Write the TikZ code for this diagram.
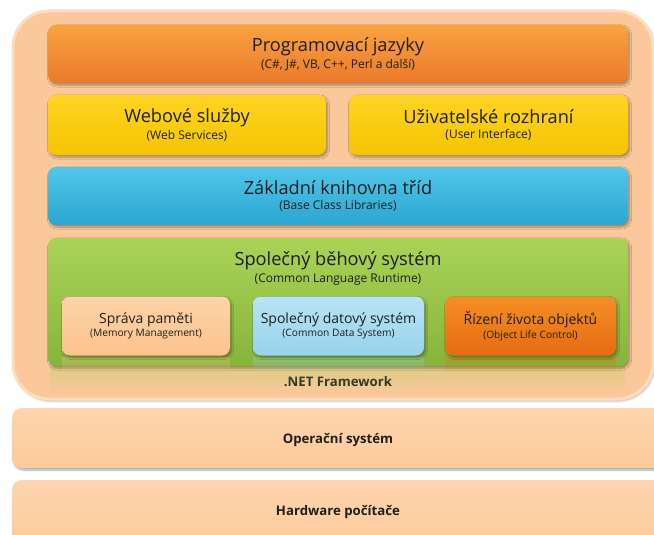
\documentclass[tikz,border=0pt]{standalone}
\usepackage{fontspec}
\setmainfont{Open Sans}
\usetikzlibrary{shadows.blur,fadings}

\definecolor{framefill}{HTML}{FBC89B}
\definecolor{framerim}{HTML}{FDDDBB}
\definecolor{peach}{HTML}{FDCA9A}
\definecolor{peachtop}{HTML}{FDD5AE}
\definecolor{orgtop}{HTML}{F9A240}
\definecolor{orgbot}{HTML}{EA7A2C}
\definecolor{yeltop}{HTML}{FFD424}
\definecolor{yelbot}{HTML}{F5C500}
\definecolor{blutop}{HTML}{52C6EA}
\definecolor{blubot}{HTML}{2BA6D0}
\definecolor{grntop}{HTML}{A9D458}
\definecolor{grnbot}{HTML}{86B43A}
\definecolor{memtop}{HTML}{FED3A8}
\definecolor{membot}{HTML}{FBC38E}
\definecolor{dattop}{HTML}{B8E4F5}
\definecolor{datbot}{HTML}{98D2EA}
\definecolor{objtop}{HTML}{F58E26}
\definecolor{objbot}{HTML}{E66C10}
\definecolor{ink}{HTML}{1E1E1E}

\tikzset{
  layer/.style={rectangle, rounded corners=8pt, inner sep=0pt, text=ink,
    align=center, blur shadow={shadow xshift=1.5pt, shadow yshift=-2pt,
    shadow blur steps=6, shadow opacity=35}},
  orangelayer/.style={layer, top color=orgtop, bottom color=orgbot},
  yellowlayer/.style={layer, top color=yeltop, bottom color=yelbot},
  bluelayer/.style={layer, top color=blutop, bottom color=blubot},
  greenlayer/.style={layer, top color=grntop, bottom color=grnbot},
  memlayer/.style={layer, top color=memtop, bottom color=membot},
  datlayer/.style={layer, top color=dattop, bottom color=datbot},
  objlayer/.style={layer, top color=objtop, bottom color=objbot},
  oslayer/.style={layer, rounded corners=10pt, top color=peachtop, bottom color=peach},
  mirror/.style={path fading=south, fill opacity=0.35},
  boldlabel/.style={font=\fontsize{13.2}{16}\selectfont\bfseries, text=ink},
}
\newcommand{\bigline}[1]{{\fontsize{18.2}{21}\selectfont #1}}
\newcommand{\sub}[1]{\\[3pt]{\fontsize{12}{13}\selectfont #1}}
\newcommand{\midline}[1]{{\fontsize{14}{17}\selectfont #1}}
\newcommand{\subsmall}[1]{\\[1.5pt]{\fontsize{10.2}{12}\selectfont #1}}

\begin{document}
\begin{tikzpicture}[x=1pt,y=-1pt]
\useasboundingbox (0,0) rectangle (654,535);
\begin{scope}
\clip (0,0) rectangle (654,535);

% .NET Framework frame
\node[rectangle, rounded corners=36pt, minimum width=640pt, minimum height=388pt,
  fill=framefill, draw=framerim, line width=3pt,
  blur shadow={shadow xshift=1.5pt, shadow yshift=-2pt, shadow opacity=30}]
  (net) at (333,205) {};
\node[boldlabel] (netlabel) at (338,382) {.NET Framework};

% languages
\node[orangelayer, minimum width=580pt, minimum height=58pt] (lang) at (338,54)
  {\bigline{Programovací jazyky}\sub{(C\#, J\#, VB, C++, Perl a další)}};

% web services / user interface
\node[yellowlayer, minimum width=278pt, minimum height=60pt] (web) at (187,125)
  {\bigline{Webové služby}\sub{(Web Services)}};
\node[yellowlayer, minimum width=279pt, minimum height=60pt] (ui) at (488.5,125)
  {\bigline{Uživatelské rozhraní}\sub{(User Interface)}};

% base class libraries
\node[bluelayer, minimum width=580pt, minimum height=58pt] (bcl) at (338,196)
  {\bigline{Základní knihovna tříd}\sub{(Base Class Libraries)}};

% common language runtime
\fill[grntop, mirror] (50,366) rectangle (626,394);
\node[greenlayer, minimum width=580pt, minimum height=128pt] (clr) at (338,302) {};
\node[align=center, text=ink, anchor=north] (clrlabel) at (338,248)
  {\bigline{Společný běhový systém}\sub{(Common Language Runtime)}};

% runtime services with their reflections
\fill[membot, mirror] (62,357) rectangle (230,374);
\fill[datbot, mirror] (253,357) rectangle (424,374);
\fill[objbot, mirror] (445,357) rectangle (616,374);
\node[memlayer, minimum width=168pt, minimum height=59pt] (mem) at (146,326)
  {\midline{Správa paměti}\subsmall{(Memory Management)}};
\node[datlayer, minimum width=171pt, minimum height=59pt] (cds) at (338.5,326)
  {\midline{Společný datový systém}\subsmall{(Common Data System)}};
\node[objlayer, minimum width=171pt, minimum height=59pt] (olc) at (530.5,326)
  {\midline{Řízení života objektů}\subsmall{(Object Life Control)}};

% operating system and hardware
\node[oslayer, minimum width=660pt, minimum height=60pt] (os) at (342,438) {};
\node[boldlabel] (oslabel) at (338,440) {Operační systém};
\node[oslayer, minimum width=660pt, minimum height=70pt] (hw) at (342,515) {};
\node[boldlabel] (hwlabel) at (338,512) {Hardware počítače};
\end{scope}
\end{tikzpicture}
\end{document}
